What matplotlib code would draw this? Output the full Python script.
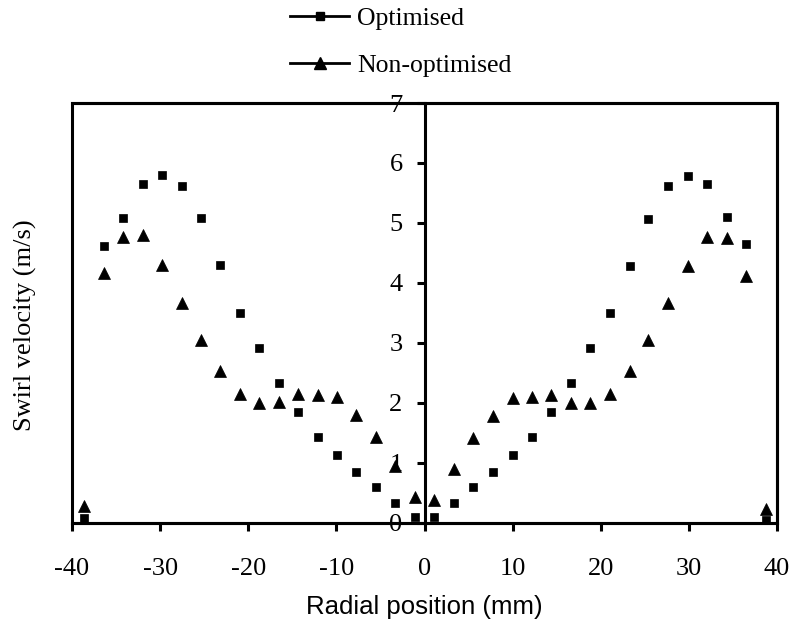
import matplotlib
matplotlib.use("Agg")
import matplotlib.pyplot as plt
from matplotlib.lines import Line2D

plt.rcParams["axes.unicode_minus"] = False

# ---- data ----
radial_position = [-38.6, -36.4, -34.2, -32.0, -29.8, -27.5, -25.4, -23.2, -20.9,
                   -18.8, -16.5, -14.3, -12.1, -9.9, -7.8, -5.5, -3.3, -1.1,
                   1.1, 3.4, 5.5, 7.8, 10.0, 12.2, 14.4, 16.6, 18.8,
                   21.0, 23.3, 25.4, 27.6, 29.9, 32.0, 34.3, 36.5, 38.7]
optimised = [0.07, 4.62, 5.08, 5.65, 5.80, 5.62, 5.08, 4.30, 3.50,
             2.92, 2.32, 1.85, 1.43, 1.12, 0.84, 0.59, 0.33, 0.10,
             0.10, 0.32, 0.59, 0.84, 1.12, 1.43, 1.85, 2.32, 2.92,
             3.50, 4.28, 5.06, 5.62, 5.78, 5.65, 5.10, 4.64, 0.05]
non_optimised = [0.28, 4.16, 4.76, 4.79, 4.30, 3.67, 3.05, 2.52, 2.14,
                 2.00, 2.01, 2.14, 2.13, 2.10, 1.79, 1.43, 0.94, 0.43,
                 0.38, 0.90, 1.41, 1.77, 2.08, 2.10, 2.13, 2.00, 1.99,
                 2.15, 2.53, 3.05, 3.67, 4.28, 4.77, 4.75, 4.12, 0.23]
x_ticks = [-40, -30, -20, -10, 0, 10, 20, 30, 40]
y_ticks = [0, 1, 2, 3, 4, 5, 6, 7]
series_labels = ["Optimised", "Non-optimised"]

SERIF = "Liberation Serif"
SANS = "Liberation Sans"
LW = 2.2

fig = plt.figure(figsize=(7.95, 6.33), dpi=100)
ax = fig.add_axes([72 / 795, (633 - 522.5) / 633, 705 / 795, 419.5 / 633])

ax.plot(radial_position, optimised, linestyle="none", marker="s",
        markersize=5.5, color="black", markeredgewidth=0.5, zorder=3)
ax.plot(radial_position, non_optimised, linestyle="none", marker="^",
        markersize=8.5, color="black", markeredgewidth=0.5, zorder=3)

ax.set_xlim(x_ticks[0], x_ticks[-1])
ax.set_ylim(y_ticks[0], y_ticks[-1])
ax.set_xticks(x_ticks)
ax.set_yticks(y_ticks)

# spines: box frame plus a central y axis at x = 0
ax.spines["left"].set_position(("data", 0))
for s in ["left", "right", "top", "bottom"]:
    ax.spines[s].set_linewidth(LW)
    ax.spines[s].set_color("black")
ax.patch.set_edgecolor("black")
ax.patch.set_linewidth(LW)

ax.tick_params(axis="x", direction="out", length=5.8, width=LW, pad=20,
               labelsize=19)
ax.tick_params(axis="y", direction="out", length=5.8, width=LW, pad=10,
               labelsize=19)
for lab in ax.get_xticklabels() + ax.get_yticklabels():
    lab.set_fontfamily(SERIF)

ax.set_xlabel("Radial position (mm)", fontfamily=SANS, fontsize=18.5)
ax.xaxis.label.set_va("center")
ax.xaxis.set_label_coords(0.5, (522.5 - 607) / 419.5)

ax.set_ylabel("Swirl velocity (m/s)", fontfamily=SERIF, fontsize=19)
ax.yaxis.label.set_va("center")
ax.yaxis.set_label_coords((25 - 72) / 705, (522.5 - 325) / 419.5)

handles = [
    Line2D([], [], color="black", linewidth=2.0, marker="s", markersize=5.5),
    Line2D([], [], color="black", linewidth=2.0, marker="^", markersize=8.5),
]
fig.legend(handles, series_labels, loc="upper left",
           bbox_to_anchor=(290 / 795, 1 - 7 / 633),
           bbox_transform=fig.transFigure, frameon=False,
           borderpad=0, borderaxespad=0, handlelength=2.3,
           handletextpad=0.3, labelspacing=0.95,
           prop={"family": SERIF, "size": 18.5})

fig.savefig("out.png", dpi=100)
